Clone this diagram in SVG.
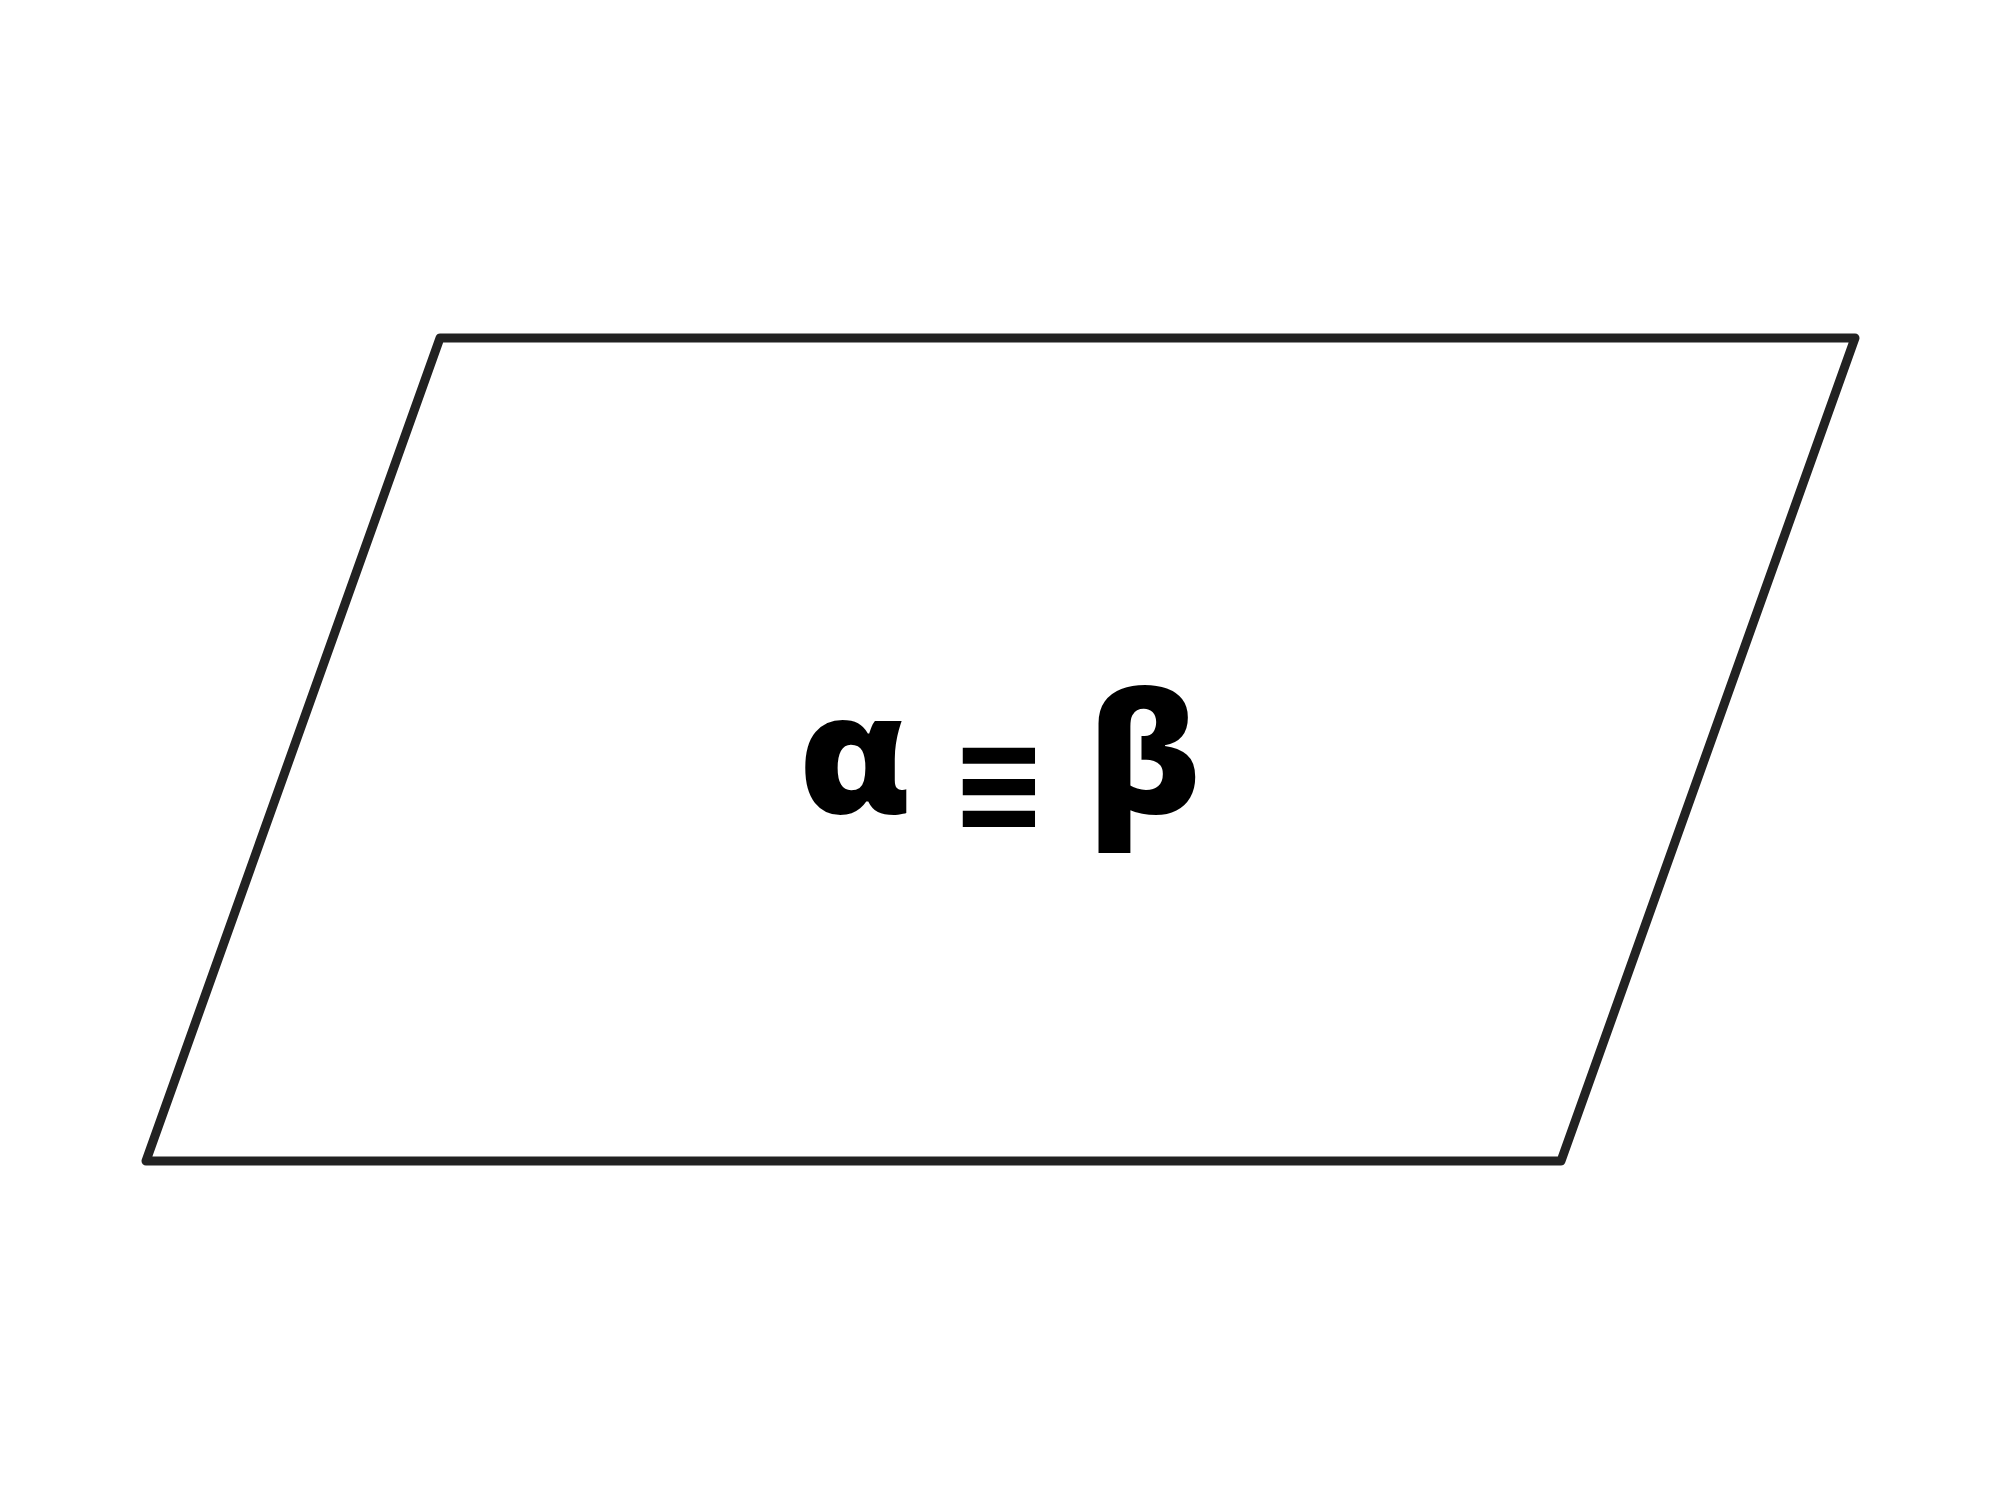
<svg xmlns="http://www.w3.org/2000/svg" width="2000" height="1500" viewBox="0 0 2000 1500">
<style>
.shape{fill:#ffffff;stroke:#222222;stroke-width:9;stroke-linejoin:round}
.label{font-family:"Open Sans","Noto Sans",sans-serif;font-weight:800;font-size:167px;fill:#000000;text-anchor:middle;word-spacing:3px}
.sym{font-family:"DejaVu Sans Mono",monospace;font-weight:bold;font-size:140px}
</style>
<rect width="2000" height="1500" fill="#ffffff"/>
<g id="node1">
<polygon class="shape" points="440,338 1855,338 1561,1161 146,1161"/>
<text class="label" x="1000" y="813">α <tspan class="sym" dy="18">≡</tspan> <tspan dy="-18">β</tspan></text>
</g>
<g id="connectors"></g>
</svg>
